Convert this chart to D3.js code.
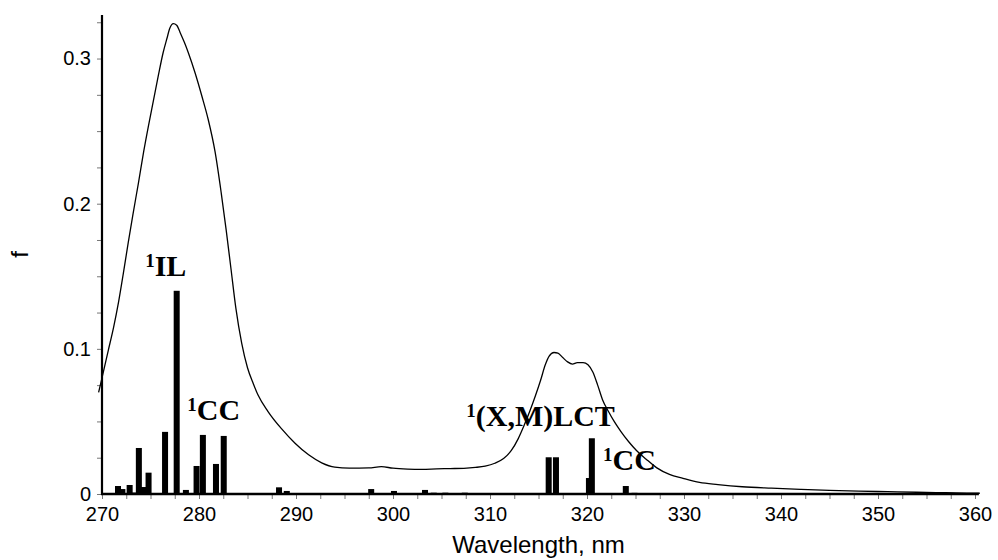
<!DOCTYPE html>
<html>
<head>
<meta charset="utf-8">
<script src="https://cdn.jsdelivr.net/npm/d3@7/dist/d3.min.js"></script>
<style>
  html, body { margin: 0; padding: 0; background: #fff; }
  svg { display: block; }
  .tick-label { font-family: "Liberation Sans", Arial, sans-serif; font-size: 20px; fill: #000; }
  .axis-title { font-family: "Liberation Sans", Arial, sans-serif; font-size: 24px; fill: #000; }
  .band-label { font-family: "Liberation Serif", "Times New Roman", serif; font-weight: bold; fill: #000; }
</style>
</head>
<body>
<svg id="chart" width="998" height="560"></svg>
<script>
// Simulated absorption envelope (wavelength in nm, oscillator strength f)
const curveNm = [269.65, 270.0, 270.65, 271.2, 271.7, 272.2, 272.7, 273.2, 273.75, 274.3, 274.8, 275.3, 275.8, 276.3, 276.7, 277.0, 277.35, 277.7, 278.05, 278.5, 278.9, 279.6, 280.3, 280.95, 281.65, 282.3, 282.8, 283.3, 283.8, 284.4, 285.0, 285.6, 286.1, 287.1, 288.5, 289.9, 291.3, 292.65, 294.0, 295.5, 297.5, 298.8, 300.0, 301.5, 303.0, 304.5, 305.9, 307.3, 308.5, 309.5, 310.5, 311.4, 312.2, 312.9, 313.5, 314.1, 314.7, 315.2, 315.7, 316.1, 316.6, 317.0, 317.5, 318.0, 318.5, 319.0, 319.6, 320.1, 320.6, 321.1, 321.6, 322.2, 322.8, 323.5, 324.3, 325.1, 326.1, 327.2, 328.5, 329.9, 331.6, 333.5, 336.0, 339.0, 342.0, 345.0, 348.0, 351.0, 354.0, 357.0, 360.0, 360.5];
const curveF = [0.070, 0.080, 0.099, 0.115, 0.132, 0.152, 0.173, 0.193, 0.214, 0.236, 0.254, 0.271, 0.288, 0.304, 0.314, 0.321, 0.324, 0.323, 0.318, 0.311, 0.304, 0.290, 0.274, 0.258, 0.236, 0.207, 0.182, 0.155, 0.128, 0.104, 0.087, 0.076, 0.068, 0.057, 0.045, 0.035, 0.027, 0.0215, 0.0185, 0.0178, 0.0180, 0.0188, 0.0178, 0.0172, 0.0170, 0.0173, 0.0175, 0.0177, 0.0183, 0.0192, 0.0212, 0.0245, 0.030, 0.038, 0.047, 0.057, 0.068, 0.078, 0.089, 0.095, 0.0975, 0.097, 0.094, 0.091, 0.0895, 0.0905, 0.0905, 0.089, 0.084, 0.075, 0.065, 0.057, 0.050, 0.043, 0.036, 0.030, 0.024, 0.018, 0.0135, 0.0108, 0.0080, 0.0065, 0.0050, 0.0040, 0.0032, 0.0025, 0.0020, 0.0016, 0.0012, 0.0009, 0.0006, 0.0005];

// Individual singlet transitions (stick spectrum)
const barNm = [271.65, 272.1, 272.85, 273.3, 273.8, 274.3, 274.8, 276.5, 277.7, 278.65, 279.75, 280.4, 281.75, 282.55, 288.25, 289.05, 297.75, 300.1, 303.3, 304.2, 305.4, 307.4, 316.05, 316.8, 320.2, 320.5, 324.0, 324.9];
const barF = [0.0055, 0.0034, 0.0062, 0.0010, 0.0317, 0.0048, 0.0147, 0.0428, 0.140, 0.0028, 0.0193, 0.0407, 0.0207, 0.0400, 0.0046, 0.0021, 0.0034, 0.0021, 0.0028, 0.0009, 0.0009, 0.0009, 0.0253, 0.0253, 0.0110, 0.0384, 0.0055, 0.0008];

// Axis ticks
const xTickValues = [270, 280, 290, 300, 310, 320, 330, 340, 350, 360];
const yTickValues = [0, 0.1, 0.2, 0.3];
const yTickLabels = ["0", "0.1", "0.2", "0.3"];

// Band assignments: text, anchor wavelength, anchor f (baseline, left edge)
const bandText = ["IL", "CC", "(X,M)LCT", "CC"];
const bandNm = [274.45, 278.8, 307.55, 321.65];
const bandF = [0.150, 0.051, 0.0469, 0.0165];

const svg = d3.select("#chart");

const x = d3.scaleLinear().domain([270, 360]).range([102, 975]);
const y = d3.scaleLinear().domain([0, 0.33]).range([494, 15]);

// minor + major ticks
const xMinor = d3.range(270, 360.01, 2.5);
const yMinor = d3.range(0, 0.3301, 0.025);

svg.append("g")
  .attr("transform", `translate(0,${y(0)})`)
  .call(d3.axisBottom(x).tickValues(xMinor).tickSize(5).tickFormat(""))
  .call(g => g.select(".domain").remove())
  .call(g => g.selectAll(".tick line").attr("stroke", "#777").attr("stroke-width", 1));

svg.append("g")
  .attr("transform", `translate(0,${y(0)})`)
  .call(d3.axisBottom(x).tickValues(xTickValues).tickSize(0).tickPadding(13).tickFormat(d3.format("d")))
  .call(g => g.select(".domain").remove())
  .call(g => g.selectAll("text").attr("class", "tick-label").attr("font-size", null).attr("font-family", null));

svg.append("g")
  .attr("transform", `translate(${x(270)},0)`)
  .call(d3.axisLeft(y).tickValues(yMinor).tickSize(5).tickFormat(""))
  .call(g => g.select(".domain").remove())
  .call(g => g.selectAll(".tick line").attr("stroke", "#777").attr("stroke-width", 1));

svg.append("g")
  .attr("transform", `translate(${x(270)},0)`)
  .call(d3.axisLeft(y).tickValues(yTickValues).tickSize(0).tickPadding(11)
        .tickFormat((d, i) => yTickLabels[i]))
  .call(g => g.select(".domain").remove())
  .call(g => g.selectAll("text").attr("class", "tick-label").attr("font-size", null).attr("font-family", null));

// bars
const halfW = 0.31;
svg.append("g").selectAll("rect")
  .data(barNm.map((d, i) => ({ nm: d, f: barF[i] })))
  .join("rect")
  .attr("x", d => x(d.nm - halfW))
  .attr("width", d => x(d.nm + halfW) - x(d.nm - halfW))
  .attr("y", d => y(d.f))
  .attr("height", d => y(0) - y(d.f))
  .attr("fill", "#000");

// envelope
const line = d3.line().x(d => x(d[0])).y(d => y(d[1])).curve(d3.curveMonotoneX);
svg.append("path")
  .datum(curveNm.map((d, i) => [d, curveF[i]]))
  .attr("d", line)
  .attr("fill", "none")
  .attr("stroke", "#000")
  .attr("stroke-width", 1.3);

// axes lines
svg.append("line")
  .attr("x1", x(270)).attr("x2", x(270))
  .attr("y1", y(0.33)).attr("y2", y(0) + 1)
  .attr("stroke", "#000").attr("stroke-width", 2.2);
svg.append("line")
  .attr("x1", x(270) - 1).attr("x2", x(360.4))
  .attr("y1", y(0)).attr("y2", y(0))
  .attr("stroke", "#000").attr("stroke-width", 2.6);

// band labels
bandText.forEach((t, i) => {
  const txt = svg.append("text")
    .attr("class", "band-label")
    .attr("x", x(bandNm[i]))
    .attr("y", y(bandF[i]));
  txt.append("tspan").attr("font-size", 19).attr("dy", -9).text("1");
  txt.append("tspan").attr("font-size", 30).attr("dy", 9).text(t);
});

// axis titles
svg.append("text")
  .attr("class", "axis-title")
  .attr("x", (x(270) + x(360)) / 2)
  .attr("y", 553)
  .attr("text-anchor", "middle")
  .text("Wavelength, nm");

svg.append("text")
  .attr("class", "axis-title")
  .attr("transform", `translate(28,${y(0.165)}) rotate(-90)`)
  .attr("text-anchor", "middle")
  .text("f");
</script>
</body>
</html>
